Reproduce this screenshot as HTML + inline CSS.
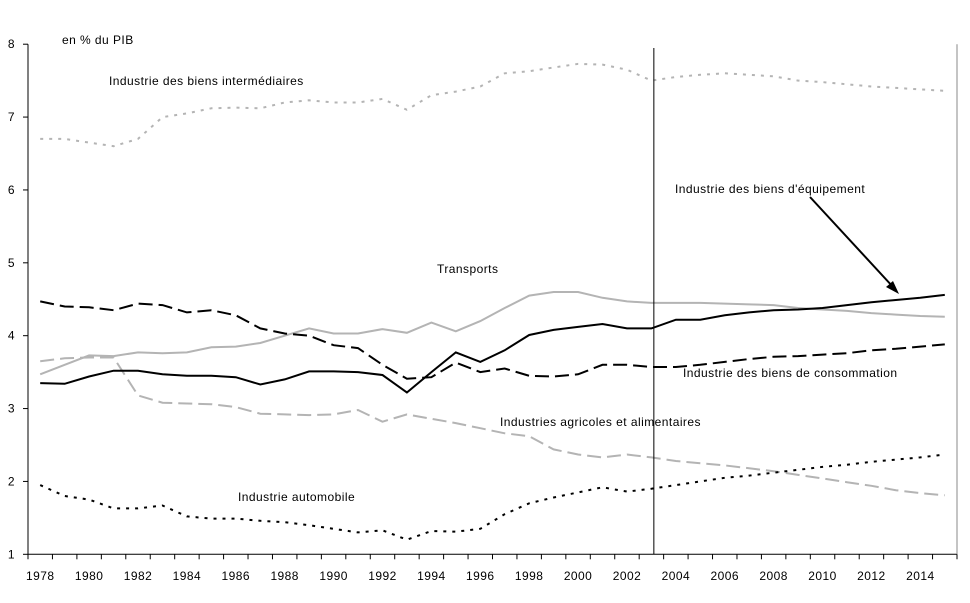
<!DOCTYPE html>
<html><head><meta charset="utf-8"><style>
body{margin:0;background:#fff;}
svg{display:block;font-family:"Liberation Sans",sans-serif;font-size:12px;letter-spacing:0.45px;}
</style></head><body>
<svg id="chart" width="970" height="603" viewBox="0 0 970 603"></svg>
<script>
const years=[1978,1979,1980,1981,1982,1983,1984,1985,1986,1987,1988,1989,1990,1991,1992,1993,1994,1995,1996,1997,1998,1999,2000,2001,2002,2003,2004,2005,2006,2007,2008,2009,2010,2011,2012,2013,2014,2015];
const intermediaires=[6.7,6.7,6.65,6.6,6.7,7.0,7.05,7.12,7.13,7.12,7.2,7.23,7.2,7.2,7.25,7.1,7.3,7.35,7.42,7.6,7.63,7.68,7.73,7.72,7.65,7.5,7.55,7.58,7.6,7.58,7.56,7.5,7.48,7.45,7.42,7.4,7.38,7.36];
const transports=[3.47,3.6,3.73,3.72,3.77,3.76,3.77,3.84,3.85,3.9,4.0,4.1,4.03,4.03,4.09,4.04,4.18,4.06,4.2,4.38,4.55,4.6,4.6,4.52,4.47,4.45,4.45,4.45,4.44,4.43,4.42,4.38,4.36,4.34,4.31,4.29,4.27,4.26];
const equipement=[3.35,3.34,3.44,3.52,3.52,3.47,3.45,3.45,3.43,3.33,3.4,3.51,3.51,3.5,3.46,3.22,3.5,3.77,3.64,3.8,4.01,4.08,4.12,4.16,4.1,4.1,4.22,4.22,4.28,4.32,4.35,4.36,4.38,4.42,4.46,4.49,4.52,4.56];
const consommation=[4.47,4.4,4.39,4.35,4.44,4.42,4.32,4.35,4.28,4.1,4.03,4.0,3.87,3.83,3.6,3.41,3.43,3.63,3.5,3.55,3.45,3.44,3.47,3.6,3.6,3.57,3.57,3.6,3.64,3.68,3.71,3.72,3.74,3.76,3.8,3.82,3.85,3.88];
const agricoles=[3.65,3.69,3.7,3.7,3.18,3.08,3.07,3.06,3.02,2.93,2.92,2.91,2.92,2.98,2.82,2.92,2.86,2.8,2.73,2.66,2.62,2.44,2.37,2.33,2.37,2.33,2.28,2.25,2.22,2.18,2.14,2.09,2.04,1.99,1.94,1.88,1.84,1.81];
const automobile=[1.95,1.8,1.75,1.63,1.63,1.67,1.52,1.49,1.49,1.46,1.44,1.4,1.35,1.3,1.33,1.2,1.32,1.31,1.35,1.55,1.7,1.78,1.85,1.92,1.86,1.9,1.95,2.0,2.05,2.08,2.12,2.16,2.2,2.23,2.27,2.3,2.33,2.37];
const yTicks=[1,2,3,4,5,6,7,8];
const markerYear=2003.1;

const svg=document.getElementById('chart');
const NS='http://www.w3.org/2000/svg';
const L=28,R=957,T=44.2,B=554.3,yMin=1,yMax=8;
const band=(R-L)/years.length;
const x=i=>L+band*(i+0.5);
const xYear=yr=>x(yr-years[0]);
const y=v=>B-(v-yMin)/(yMax-yMin)*(B-T);
function mk(tag,attrs,parent){const e=document.createElementNS(NS,tag);for(const k in attrs)e.setAttribute(k,attrs[k]);(parent||svg).appendChild(e);return e;}

let ax=mk('line',{x1:L,y1:T,x2:L,y2:B,stroke:'#000'});


let bx=mk('line',{x1:L,y1:B,x2:R,y2:B,stroke:'#000'});


let rb=mk('line',{x1:R,y1:T,x2:R,y2:B,stroke:'#888'});


yTicks.forEach(v=>{
  mk('line',{x1:L-5,y1:y(v),x2:L,y2:y(v),stroke:'#000'});
  const t=mk('text',{x:15,y:y(v)+4,'text-anchor':'end'});t.textContent=v;
  
  
});
for(let i=0;i<=years.length;i++){mk('line',{x1:L+band*i,y1:B,x2:L+band*i,y2:B+5,stroke:'#000'});}
years.forEach((yr,i)=>{if(i%2===0){const t=mk('text',{x:x(i),y:580,'text-anchor':'middle'});t.textContent=yr;
  
  }});

function line(data,stroke,dash,name,w){
  const d=data.map((v,i)=>(i?'L':'M')+x(i).toFixed(1)+','+y(v).toFixed(1)).join('');
  const p=mk('path',{d:d,fill:'none',stroke:stroke,'stroke-width':w||2,'stroke-dasharray':dash||'none'});
  
  
}
line(intermediaires,'#b4b4b4','3,6','series-biens-intermediaires');
line(agricoles,'#b4b4b4','14,6','series-agricoles-alimentaires');
line(transports,'#b4b4b4',null,'series-transports');
line(consommation,'#000','14,6','series-biens-consommation');
line(equipement,'#000',null,'series-biens-equipement');
line(automobile,'#000','3,6','series-automobile');

const vl=mk('line',{x1:xYear(markerYear),y1:48,x2:xYear(markerYear),y2:B,stroke:'#000'});



const ar=mk('path',{d:'M810,197 L894,288',stroke:'#000','stroke-width':2,fill:'none'});


mk('path',{d:'M899,294 L886,287 L893,281 Z',fill:'#000'});

const labels=[['en % du PIB',62,44,'y-axis-title'],['Industrie des biens intermédiaires',109,85,'label-intermediaires'],['Industrie des biens d\'équipement',675,193,'label-equipement'],['Transports',437,273,'label-transports'],['Industrie des biens de consommation',683,377,'label-consommation'],['Industries agricoles et alimentaires',500,426,'label-agricoles'],['Industrie automobile',238,501,'label-automobile']];
labels.forEach(l=>{const t=mk('text',{x:l[1],y:l[2]});t.textContent=l[0];
  
  });
</script>
</body></html>
